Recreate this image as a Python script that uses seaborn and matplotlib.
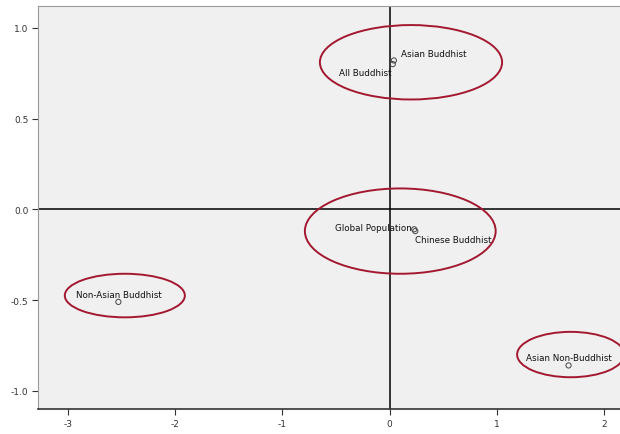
import pandas as pd
import numpy as np
import matplotlib.pyplot as plt
import seaborn as sns
from matplotlib.patches import Ellipse

# points
labels = ["Asian Buddhist", "All Buddhist", "Global Population", "Chinese Buddhist",
          "Non-Asian Buddhist", "Asian Non-Buddhist"]
dim1 = [0.04, 0.03, 0.23, 0.24, -2.53, 1.67]
dim2 = [0.82, 0.80, -0.11, -0.12, -0.51, -0.86]

# group circles: centre x, centre y, width, height
circle_x = [0.20, 0.10, -2.47, 1.69]
circle_y = [0.81, -0.12, -0.475, -0.80]
circle_w = [1.70, 1.78, 1.12, 1.00]
circle_h = [0.41, 0.47, 0.24, 0.25]

xticks = [-3, -2, -1, 0, 1, 2]
yticks = [1.0, 0.5, 0.0, -0.5, -1.0]

df = pd.DataFrame({"label": labels, "dim1": dim1, "dim2": dim2})

sns.set_style("white")
fig = plt.figure(figsize=(6.2, 4.35), dpi=100)
ax = fig.add_axes([38 / 620, 25 / 435, 582 / 620, 403 / 435])
ax.set_facecolor("#f0f0f0")

ax.axhline(0, color="black", lw=1.1, zorder=1)
ax.axvline(0, color="black", lw=1.1, zorder=1)

sns.scatterplot(data=df, x="dim1", y="dim2", marker="o", s=14,
                facecolors="none", edgecolor="#444444", linewidth=0.7, ax=ax, zorder=3)

# label placement (offsets in points)
offsets = {
    "Asian Buddhist": (5, 5, "left"),
    "All Buddhist": (-1, -6, "right"),
    "Global Population": (-2, 1, "right"),
    "Chinese Buddhist": (0, -6, "left"),
    "Non-Asian Buddhist": (0, 5, "center"),
    "Asian Non-Buddhist": (0, 6, "center"),
}
for _, row in df.iterrows():
    dx, dy, ha = offsets[row["label"]]
    ax.annotate(row["label"], (row["dim1"], row["dim2"]), xytext=(dx, dy),
                textcoords="offset points", ha=ha, va="center", fontsize=6.3,
                color="#111111", zorder=4)

for cx, cy, w, h in zip(circle_x, circle_y, circle_w, circle_h):
    ax.add_patch(Ellipse((cx, cy), w, h, fill=False, edgecolor="#a3182f",
                         lw=1.4, zorder=2))

ax.set_xlim(-3.28, 2.15)
ax.set_ylim(-1.10, 1.12)
ax.set_xticks(xticks)
ax.set_xticklabels([str(t) for t in xticks])
ax.set_yticks(yticks)
ax.set_yticklabels(["%.1f" % t for t in yticks])
ax.tick_params(axis="both", length=4, width=0.8, labelsize=6.5, colors="#333333",
               direction="out", pad=3, bottom=True, left=True)
ax.set_xlabel("")
ax.set_ylabel("")

ax.spines["right"].set_visible(False)
ax.spines["top"].set_color("#999999")
ax.spines["left"].set_color("#999999")
ax.spines["bottom"].set_color("#333333")
ax.spines["bottom"].set_linewidth(1.2)

fig.savefig("out.png", dpi=100)
